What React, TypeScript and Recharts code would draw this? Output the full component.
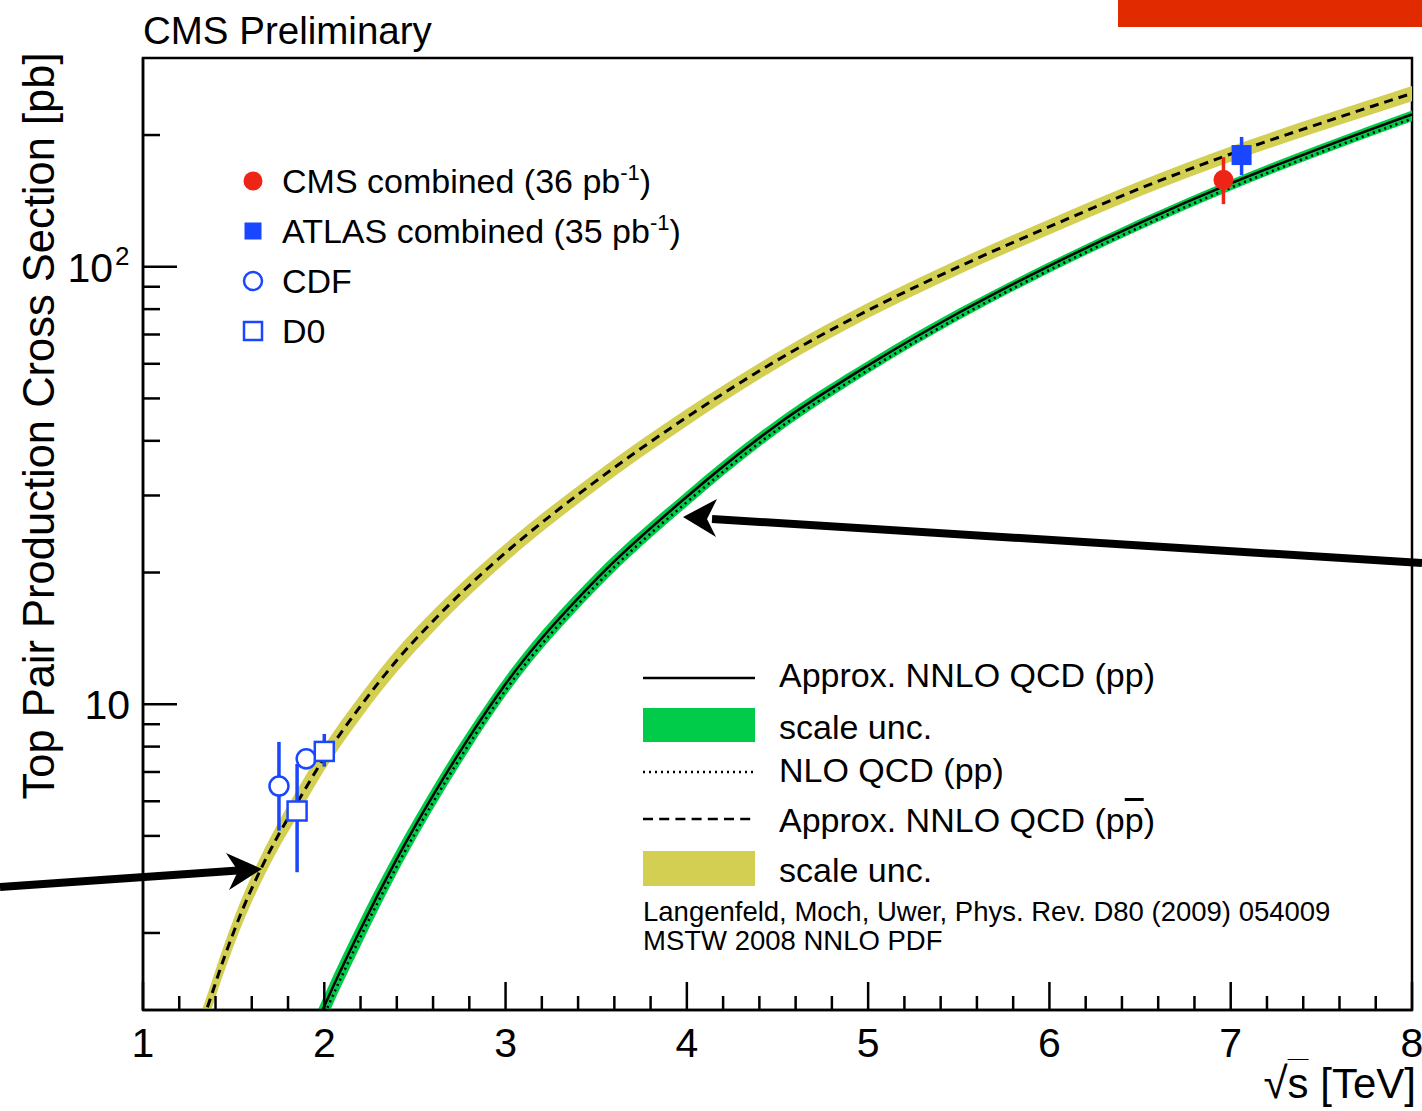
import React from 'react'
import {
  ComposedChart,
  Line,
  Area,
  Scatter,
  ErrorBar,
  XAxis,
  YAxis,
  ReferenceArea,
} from 'recharts'

const FONT = "'Liberation Sans', Arial, Helvetica, sans-serif"

// theory curves (pb)
const sqrtS = [1.3, 1.35, 1.45, 1.55, 1.65, 1.75, 1.85, 2.0, 2.2, 2.4, 2.6, 2.8, 3.0, 3.5, 4.0, 4.5, 5.0, 5.5, 6.0, 6.5, 7.0, 7.5, 8.0]
const nnloPpbar = [1.75, 2.0, 2.65, 3.4, 4.2, 5.05, 5.95, 7.55, 9.9, 12.6, 15.5, 18.7, 22.2, 32.4, 45.3, 61.2, 79.5, 100, 123.5, 151, 181, 213, 249]
const ppbarLo = [1.63, 1.86, 2.46, 3.16, 3.91, 4.7, 5.53, 7.06, 9.29, 11.84, 14.63, 17.71, 21.09, 30.88, 43.26, 58.63, 76.32, 96, 118.56, 144.96, 173.76, 204.48, 239.04]
const ppbarHi = [1.87, 2.14, 2.84, 3.64, 4.49, 5.4, 6.37, 8.04, 10.51, 13.36, 16.37, 19.69, 23.31, 33.92, 47.34, 63.77, 82.68, 104, 128.44, 157.04, 188.24, 221.52, 258.96]
const nnloPp = [null, null, null, null, null, null, 1.45, 2.04, 3.06, 4.43, 6.19, 8.41, 11.12, 19.3, 29.8, 43.6, 59.5, 78.5, 100.5, 126, 155, 187, 223]
const nloPp = [null, null, null, null, null, null, 1.385, 1.95, 2.94, 4.26, 5.97, 8.12, 10.76, 18.72, 28.97, 42.47, 58.07, 76.69, 98.29, 123.23, 151.59, 182.89, 218.09]
const ppLo = [null, null, null, null, null, null, 1.305, 1.86, 2.8, 4.1, 5.76, 7.86, 10.45, 18.24, 28.31, 41.64, 57.12, 75.52, 96.88, 121.46, 149.42, 180.27, 214.97]
const ppHi = [null, null, null, null, null, null, 1.55, 2.16, 3.23, 4.65, 6.47, 8.76, 11.56, 19.98, 30.69, 44.82, 60.99, 80.23, 102.51, 128.52, 158.1, 190.74, 227.46]

// measurements: sqrt(s) as drawn (shifted for visibility), sigma, [-err, +err]
const cms = [{ x: 6.96, y: 158, err: [19, 20] }]
const atlas = [{ x: 7.06, y: 180, err: [18, 18] }]
const cdf = [
  { x: 1.75, y: 6.5, err: [1.36, 1.7] },
  { x: 1.9, y: 7.5, err: [0.4, 0.4] },
]
const d0 = [
  { x: 1.85, y: 5.7, err: [1.57, 1.6] },
  { x: 2.0, y: 7.8, err: [0.6, 0.75] },
]

const xMajor = [1, 2, 3, 4, 5, 6, 7, 8]
const xMinor = [1.2, 1.4, 1.6, 1.8, 2.2, 2.4, 2.6, 2.8, 3.2, 3.4, 3.6, 3.8, 4.2, 4.4, 4.6, 4.8, 5.2, 5.4, 5.6, 5.8, 6.2, 6.4, 6.6, 6.8, 7.2, 7.4, 7.6, 7.8]
const yMajor = [10, 100]
const yMinor = [3, 4, 5, 6, 7, 8, 9, 20, 30, 40, 50, 60, 70, 80, 90, 200]

const RED = '#ee2416'
const BLUE = '#1a46ff'
const GREEN = '#00cc4a'
const YELLOW = '#d3cf52'

const table = sqrtS.map((x, i) => ({
  x,
  ppbar: nnloPpbar[i],
  ppbarBand: [ppbarLo[i], ppbarHi[i]],
  pp: nnloPp[i] ?? undefined,
  nlo: nloPp[i] ?? undefined,
  ppBand: ppLo[i] != null ? [ppLo[i], ppHi[i]] : undefined,
}))

function XTick({ x, y, payload }: any) {
  const v = payload.value as number
  const major = xMajor.includes(v)
  return (
    <g>
      <line x1={x} x2={x} y1={y} y2={y - (major ? 28 : 14)} stroke="#000" strokeWidth={2.5} />
      {major && (
        <text x={x} y={y + 47} textAnchor="middle" fontSize={41} fill="#000">
          {v}
        </text>
      )}
    </g>
  )
}

function YTick({ x, y, payload }: any) {
  const v = payload.value as number
  const major = yMajor.includes(v)
  return (
    <g>
      <line x1={x} x2={x + (major ? 34 : 17)} y1={y} y2={y} stroke="#000" strokeWidth={2.5} />
      {v === 10 && (
        <text x={x - 13} y={y + 15} textAnchor="end" fontSize={41} fill="#000">10</text>
      )}
      {v === 100 && (
        <g>
          <text x={x - 30} y={y + 15} textAnchor="end" fontSize={41} fill="#000">10</text>
          <text x={x - 28} y={y - 2} fontSize={26} fill="#000">2</text>
        </g>
      )}
    </g>
  )
}

const circleFilled = (color: string) => (p: any) => <circle cx={p.cx} cy={p.cy} r={10} fill={color} />
const squareFilled = (color: string) => (p: any) => <rect x={p.cx - 10} y={p.cy - 10} width={20} height={20} fill={color} />
const circleOpen = (p: any) => <circle cx={p.cx} cy={p.cy} r={9.5} fill="#fff" stroke={BLUE} strokeWidth={2.5} />
const squareOpen = (p: any) => <rect x={p.cx - 9.5} y={p.cy - 9.5} width={19} height={19} fill="#fff" stroke={BLUE} strokeWidth={2.5} />

const pos = (left: number, capCenter: number, size: number): React.CSSProperties => ({
  position: 'absolute',
  left,
  top: capCenter - 0.49 * size,
  fontSize: size,
  lineHeight: 1,
  whiteSpace: 'nowrap',
  color: '#000',
})

const sup: React.CSSProperties = { fontSize: 22, position: 'relative', top: -13 }

export default function App() {
  return (
    <div style={{ position: 'absolute', left: 0, top: 0, width: 1422, height: 1111, background: '#fff', fontFamily: FONT, overflow: 'hidden' }}>
      <ComposedChart width={1422} height={1111} data={table} margin={{ top: 58, right: 10, left: 0, bottom: 0 }}>
        <XAxis
          dataKey="x"
          type="number"
          domain={[1, 8]}
          allowDataOverflow
          ticks={[...xMajor, ...xMinor].sort((a, b) => a - b)}
          interval={0}
          tickLine={false}
          tickSize={0}
          tickMargin={0}
          tick={<XTick />}
          height={101}
          axisLine={{ stroke: '#000', strokeWidth: 2.5 }}
        />
        <YAxis
          scale="log"
          type="number"
          domain={[2, 300]}
          allowDataOverflow
          ticks={[...yMinor, ...yMajor].sort((a, b) => a - b)}
          interval={0}
          tickLine={false}
          tickSize={0}
          tickMargin={0}
          tick={<YTick />}
          width={143}
          axisLine={{ stroke: '#000', strokeWidth: 2.5 }}
        />
        <ReferenceArea x1={1} x2={8} y1={2} y2={300} fill="none" stroke="#000" strokeWidth={2.5} />
        <Area type="monotone" dataKey="ppbarBand" fill={YELLOW} fillOpacity={1} stroke="none" isAnimationActive={false} />
        <Area type="monotone" dataKey="ppBand" fill={GREEN} fillOpacity={1} stroke="none" isAnimationActive={false} />
        <Line type="monotone" dataKey="ppbar" stroke="#000" strokeWidth={3} strokeDasharray="9 6" dot={false} isAnimationActive={false} />
        <Line type="monotone" dataKey="nlo" stroke="#000" strokeWidth={2.5} strokeDasharray="2 4" dot={false} isAnimationActive={false} />
        <Line type="monotone" dataKey="pp" stroke="#000" strokeWidth={2.5} dot={false} isAnimationActive={false} />
        <Scatter data={cdf} dataKey="y" shape={circleOpen} isAnimationActive={false}>
          <ErrorBar dataKey="err" direction="y" width={0} stroke={BLUE} strokeWidth={3.5} isAnimationActive={false} />
        </Scatter>
        <Scatter data={d0} dataKey="y" shape={squareOpen} isAnimationActive={false}>
          <ErrorBar dataKey="err" direction="y" width={0} stroke={BLUE} strokeWidth={3.5} isAnimationActive={false} />
        </Scatter>
        <Scatter data={cms} dataKey="y" shape={circleFilled(RED)} isAnimationActive={false}>
          <ErrorBar dataKey="err" direction="y" width={0} stroke={RED} strokeWidth={3.5} isAnimationActive={false} />
        </Scatter>
        <Scatter data={atlas} dataKey="y" shape={squareFilled(BLUE)} isAnimationActive={false}>
          <ErrorBar dataKey="err" direction="y" width={0} stroke={BLUE} strokeWidth={3.5} isAnimationActive={false} />
        </Scatter>
      </ComposedChart>

      {/* titles */}
      <div style={pos(143, 31, 38.5)}>CMS Preliminary</div>
      <div style={{ ...pos(0, 1082, 42), left: undefined, right: 6 }}>
        <span style={{ fontSize: 44 }}>√</span><span style={{ textDecoration: 'overline', textDecorationThickness: 1 }}>s</span> [TeV]
      </div>

      <svg width={1422} height={1111} style={{ position: 'absolute', left: 0, top: 0, pointerEvents: 'none' }}>
        <text x={54} y={426} transform="rotate(-90 54 426)" textAnchor="middle" fontSize={43.5} fontFamily={FONT} fill="#000">
          Top Pair Production Cross Section [pb]
        </text>

        {/* legend markers, upper left */}
        <circle cx={253} cy={181} r={9.5} fill={RED} />
        <rect x={244.5} y={222.5} width={17} height={17} fill={BLUE} />
        <circle cx={253} cy={281} r={9} fill="#fff" stroke={BLUE} strokeWidth={2.5} />
        <rect x={244} y={322} width={18} height={18} fill="#fff" stroke={BLUE} strokeWidth={2.5} />

        {/* legend samples, lower right */}
        <line x1={643} x2={755} y1={678} y2={678} stroke="#000" strokeWidth={2.5} />
        <rect x={643} y={708} width={112} height={34} fill={GREEN} />
        <line x1={643} x2={755} y1={772} y2={772} stroke="#000" strokeWidth={2.5} strokeDasharray="2 4" />
        <line x1={643} x2={755} y1={819} y2={819} stroke="#000" strokeWidth={2.5} strokeDasharray="10 6.2" />
        <rect x={643} y={851} width={112} height={35} fill={YELLOW} />

        {/* arrows */}
        <line x1={1422} y1={563} x2={712} y2={519} stroke="#000" strokeWidth={8} />
        <polygon points="683,517 717,499 707,519 716,537" fill="#000" />
        <line x1={0} y1={887} x2={238} y2={870.6} stroke="#000" strokeWidth={8} />
        <polygon points="262,869 226,853 238,871 229,890" fill="#000" />
      </svg>

      <div style={pos(282, 181, 34)}>
        CMS combined (36 pb<span style={sup}>-1</span>)
      </div>
      <div style={pos(282, 231, 34)}>
        ATLAS combined (35 pb<span style={sup}>-1</span>)
      </div>
      <div style={pos(282, 281, 34)}>CDF</div>
      <div style={pos(282, 331, 34)}>D0</div>

      <div style={pos(779, 675, 34)}>Approx. NNLO QCD (pp)</div>
      <div style={pos(779, 727, 34)}>scale unc.</div>
      <div style={pos(779, 770, 34)}>NLO QCD (pp)</div>
      <div style={pos(779, 820, 34)}>
        Approx. NNLO QCD (p<span style={{ textDecoration: 'overline', textDecorationThickness: 3 }}>p</span>)
      </div>
      <div style={pos(779, 870, 34)}>scale unc.</div>
      <div style={pos(643, 911, 27.5)}>Langenfeld, Moch, Uwer, Phys. Rev. D80 (2009) 054009</div>
      <div style={pos(643, 940, 27.5)}>MSTW 2008 NNLO PDF</div>

      <div style={{ position: 'absolute', left: 1118, top: 0, width: 304, height: 27, background: '#e12a00' }} />
    </div>
  )
}
